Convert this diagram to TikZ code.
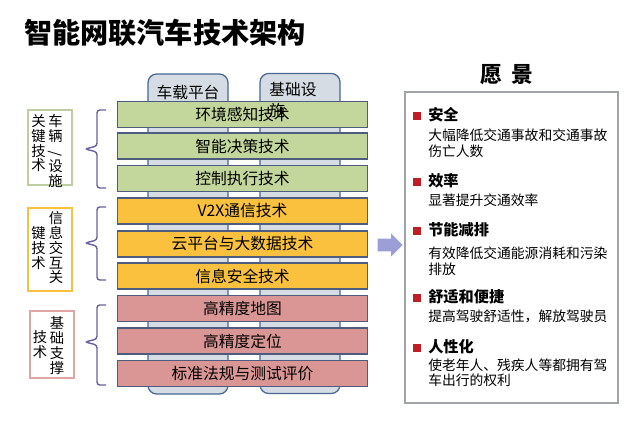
\documentclass[tikz,border=0pt]{standalone}
\usepackage{fontspec}
\setmainfont{Noto Sans CJK SC}
\usepackage{tikz}
\usetikzlibrary{shapes.arrows, positioning}
\definecolor{layergreen}{RGB}{195,214,155}
\definecolor{layerorange}{RGB}{249,193,62}
\definecolor{layerpink}{RGB}{217,150,148}
\definecolor{layerline}{RGB}{78,92,128}
\definecolor{pillarfill}{RGB}{214,220,228}
\definecolor{pillarline}{RGB}{74,104,150}
\definecolor{bracepurple}{RGB}{108,96,156}
\definecolor{arrowlilac}{RGB}{156,158,216}
\definecolor{bulletred}{RGB}{192,30,36}
\definecolor{visiongray}{RGB}{160,164,168}

\begin{document}
\begin{tikzpicture}[x=0.025cm, y=-0.025cm,
    layer/.style={rectangle, draw=layerline, line width=0.9pt, minimum width=6.25cm, minimum height=0.65cm, inner sep=0pt, font=\fontsize{11.2}{12}\selectfont},
    pillar/.style={rectangle, rounded corners=0.22cm, draw=pillarline, fill=pillarfill, line width=0.9pt, minimum width=2cm, minimum height=8cm},
    group/.style={rectangle, line width=0.9pt, fill=white, minimum width=1.1cm, inner sep=0pt},
    column/.style={align=center, anchor=north, inner sep=0pt, font=\fontsize{10.2}{10.6}\selectfont},
    brace/.style={draw=bracepurple, line width=1pt, rounded corners=2pt},
    bullet/.style={rectangle, fill=bulletred, minimum size=0.19cm, inner sep=0pt},
    head/.style={anchor=west, inner sep=0pt, font=\fontsize{10.8}{12}\bfseries\selectfont},
    body/.style={anchor=north west, align=left, inner sep=0pt, font=\fontsize{9.8}{10.7}\selectfont}
]
\useasboundingbox (0,0) rectangle (640,423);

% title
\node[anchor=west, inner sep=0pt, font=\fontsize{20}{21}\bfseries\selectfont] (title) at (24,33) {智能网联汽车技术架构};

% pillars
\node[pillar] (pv) at (188,234) {};
\node[pillar] (pi) at (300,233.5) {};
\node[font=\fontsize{11.2}{12}\selectfont, inner sep=0pt] (pvlabel) at (188,92) {车载平台};

% layers
\node[layer, fill=layergreen] (L1) at (242.5,114.5) {环境感知技术};
\node[layer, fill=layergreen] (L2) at (242.5,146) {智能决策技术};
\node[layer, fill=layergreen] (L3) at (242.5,178.5) {控制执行技术};
\node[layer, fill=layerorange] (L4) at (242.5,211) {V2X通信技术};
\node[layer, fill=layerorange] (L5) at (242.5,244) {云平台与大数据技术};
\node[layer, fill=layerorange] (L6) at (242.5,276) {信息安全技术};
\node[layer, fill=layerpink] (L7) at (242.5,308.5) {高精度地图};
\node[layer, fill=layerpink] (L8) at (242.5,341) {高精度定位};
\node[layer, fill=layerpink] (L9) at (242.5,373.5) {标准法规与测试评价};

\node[anchor=north west, align=left, inner sep=0pt, font=\fontsize{11.2}{14.9}\selectfont] (pilabel) at (269,82) {基础设\\施};

% group labels
\node[group, draw=layergreen!90!black!80, minimum height=1.875cm] (G1) at (50,147.5) {};
\node[column] at (55.5,114) {车\\辆\\\rotatebox{90}{/}\\设\\施};
\node[column] at (38.5,114) {关\\键\\技\\术};
\node[group, draw=layerorange, minimum height=2.075cm] (G2) at (50,249.5) {};
\node[column] at (56,211) {信\\息\\交\\互\\关};
\node[column] at (38.5,226) {键\\技\\术};
\node[group, draw=layerpink!85, minimum height=1.675cm] (G3) at (52,344.5) {};
\node[column] at (57,316) {基\\础\\支\\撑};
\node[column] at (40,330) {技\\术};

% braces
\draw[brace] (106,110) -- (97,110) -- (97,146) -- (85,149) -- (97,152) -- (97,188) -- (106,188);
\draw[brace] (106,207) -- (97,207) -- (97,240) -- (85,243) -- (97,246) -- (97,280) -- (106,280);
\draw[brace] (106,305) -- (97,305) -- (97,339) -- (85,342) -- (97,345) -- (97,385) -- (106,385);

% arrow
\node[single arrow, fill=arrowlilac, inner xsep=0pt, inner ysep=0.15cm, minimum height=0.62cm, single arrow head extend=0.13cm, single arrow head indent=0pt] (go) at (387,245) {};

% vision
\node[font=\fontsize{15.5}{16}\bfseries\selectfont, inner sep=0pt] (vtitle) at (507,75) {愿\, 景};
\node[rectangle, draw=visiongray, line width=0.8pt, minimum width=5.325cm, minimum height=7.775cm] (vision) at (511.5,247.5) {};

\node[bullet] (b1) at (417,116) {};
\node[head] (h1) at (428,115) {安全};
\node[body] (t1) at (428,129) {大幅降低交通事故和交通事故\\伤亡人数};
\node[bullet] (b2) at (417,182) {};
\node[head] (h2) at (428,181) {效率};
\node[body] (t2) at (428,194) {显著提升交通效率};
\node[bullet] (b3) at (417,231) {};
\node[head] (h3) at (428,230) {节能减排};
\node[body] (t3) at (428,247) {有效降低交通能源消耗和污染\\排放};
\node[bullet] (b4) at (417,298) {};
\node[head] (h4) at (428,297) {舒适和便捷};
\node[body] (t4) at (428,310) {提高驾驶舒适性，解放驾驶员};
\node[bullet] (b5) at (417,348) {};
\node[head] (h5) at (428,347) {人性化};
\node[body] (t5) at (428,359) {使老年人、残疾人等都拥有驾\\车出行的权利};
\end{tikzpicture}
\end{document}
